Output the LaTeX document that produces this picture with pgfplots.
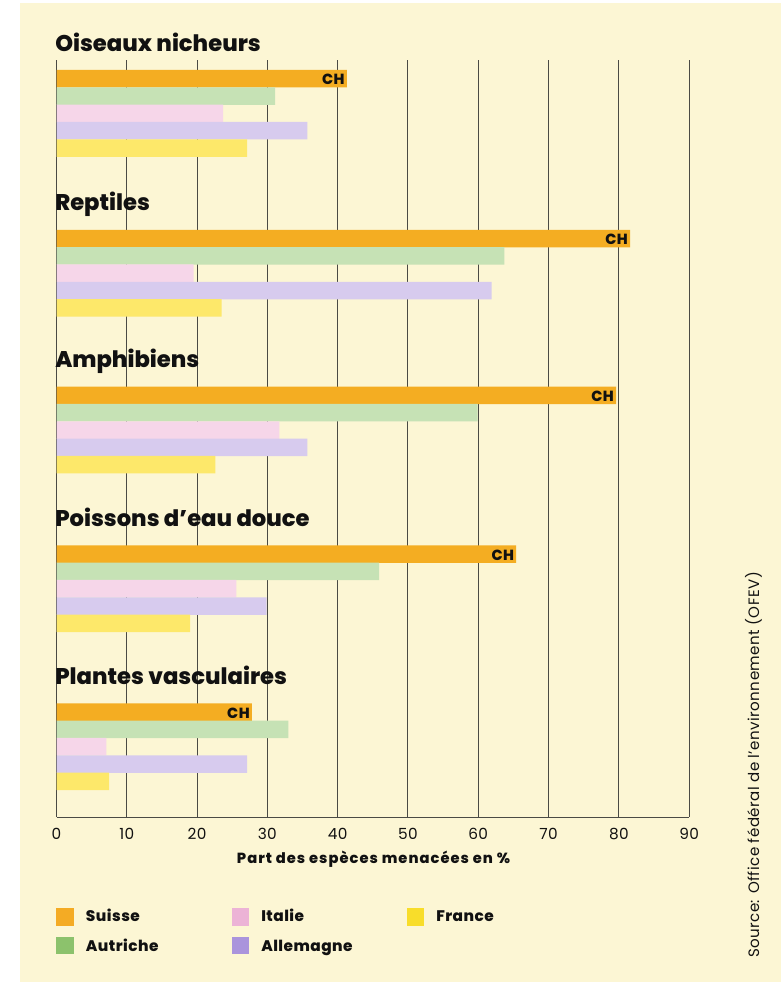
\documentclass[border=0pt]{standalone}
\usepackage{fontspec}
\setmainfont{Poppins}[BoldFont={* ExtraBold}]
\usepackage{pgfplots}
\pgfplotsset{compat=1.18}
\definecolor{bg}{HTML}{FCF6D4}
\definecolor{gridc}{HTML}{4A4A44}
\definecolor{cOr}{HTML}{F4AD22}
\definecolor{cGr}{HTML}{C6E2B5}
\definecolor{cPk}{HTML}{F6D6E9}
\definecolor{cPu}{HTML}{D7CBEE}
\definecolor{cYe}{HTML}{FDE86A}
\definecolor{lOr}{HTML}{F4AB24}
\definecolor{lGr}{HTML}{8CC26C}
\definecolor{lPk}{HTML}{ECB3D6}
\definecolor{lPu}{HTML}{AA94DC}
\definecolor{lYe}{HTML}{F8DD2A}
\definecolor{txt}{HTML}{111111}
\begin{document}
\begin{tikzpicture}
\begin{scope}[x=0.75pt,y=-0.75pt]
\path[use as bounding box] (0,0) rectangle (781,982);
\fill[white] (0,0) rectangle (781,982);
\fill[bg] (20,3) rectangle (781,982);
\end{scope}
\begin{axis}[
  at={(56.5*0.75pt,-60*0.75pt)}, anchor=north west,
  scale only axis, width=474.5pt, height=567.75pt,
  xmin=0, xmax=90, ymin=60, ymax=817, y dir=reverse,
  axis x line=bottom, axis y line=left,
  axis line style={-, draw=gridc, line width=0.75pt},
  xtick={0,10,...,90}, ytick=\empty,
  xmajorgrids, major grid style={draw=gridc, line width=0.75pt},
  major tick length=0pt,
  /pgf/number format/assume math mode=true,
  xticklabel style={anchor=base, yshift=-16.5pt, font=\fontsize{11.5}{12}\selectfont\addfontfeatures{LetterSpace=2}, text=txt},
  xbar, bar shift=0pt, bar width=17.5,
  clip=false,
]
\addplot[fill=cOr, draw=none,
  nodes near coords={CH},
  every node near coord/.append style={anchor=east, xshift=-1.5pt, yshift=-0.75pt, inner sep=0pt, text=txt, font=\bfseries\fontsize{11}{12}\selectfont\addfontfeatures{LetterSpace=3}}]
  coordinates {(41.3,78.7) (81.6,238.5) (79.6,395.3) (65.4,554.0) (27.8,712.0)};
\addplot[fill=cGr, draw=none]
  coordinates {(31.1,96.0) (63.7,255.8) (59.9,412.6) (45.9,571.3) (33.0,729.3)};
\addplot[fill=cPk, draw=none]
  coordinates {(23.7,113.4) (19.5,273.2) (31.7,430.0) (25.6,588.7) (7.1,746.7)};
\addplot[fill=cPu, draw=none]
  coordinates {(35.7,130.7) (61.9,290.5) (35.7,447.3) (29.9,606.0) (27.1,764.0)};
\addplot[fill=cYe, draw=none]
  coordinates {(27.1,148.1) (23.5,307.9) (22.6,464.7) (19.0,623.4) (7.5,781.4)};
\end{axis}
\begin{scope}[x=0.75pt,y=-0.75pt, every node/.style={text=txt, inner sep=0pt}]
\def\tf{\bfseries\fontsize{17}{20}\selectfont}
\node[anchor=base west, font=\tf] at (55,51) {Oiseaux nicheurs};
\node[anchor=base west, font=\tf] at (55,210.8) {Reptiles};
\node[anchor=base west, font=\tf] at (55,367.6) {Amphibiens};
\node[anchor=base west, font=\tf] at (55,526.3) {Poissons d’eau douce};
\node[anchor=base west, font=\tf] at (55,684.3) {Plantes vasculaires};
\node[anchor=base, font=\bfseries\fontsize{11}{12}\selectfont\addfontfeatures{LetterSpace=7}] at (373.5,863.3) {Part des espèces menacées en \%};
\def\lf{\bfseries\fontsize{11.5}{12}\selectfont\addfontfeatures{LetterSpace=3}}
\fill[lOr] (56,908.3) rectangle (73.7,925.7);
\fill[lGr] (56,936.7) rectangle (73.7,954.1);
\fill[lPk] (231.7,908.3) rectangle (249.4,925.7);
\fill[lPu] (231.7,936.7) rectangle (249.4,954.1);
\fill[lYe] (406.7,908.3) rectangle (424.4,925.7);
\node[anchor=base west, font=\lf] at (85.7,921.7) {Suisse};
\node[anchor=base west, font=\lf] at (85.7,951) {Autriche};
\node[anchor=base west, font=\lf] at (261,921.7) {Italie};
\node[anchor=base west, font=\lf] at (261,951) {Allemagne};
\node[anchor=base west, font=\lf] at (436,921.7) {France};
\node[rotate=90, font=\fontsize{11.3}{12}\selectfont\addfontfeatures{LetterSpace=3}] at (753.5,765) {Source: Office fédéral de l’environnement (OFEV)};
\end{scope}
\end{tikzpicture}
\end{document}
